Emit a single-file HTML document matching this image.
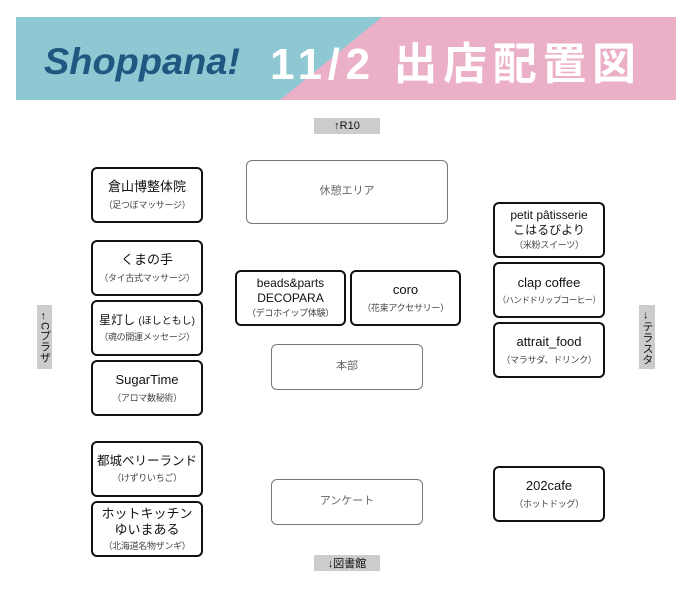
<!DOCTYPE html>
<html><head><meta charset="utf-8">
<style>
*{margin:0;padding:0;box-sizing:border-box}
body{width:692px;height:593px;background:#fff;position:relative;overflow:hidden;font-family:"Liberation Sans","Noto Sans CJK JP",sans-serif;color:#111}
.b{position:absolute;border:2px solid #111;border-radius:6px;display:flex;flex-direction:column;align-items:center;justify-content:center;text-align:center;line-height:1.25;white-space:nowrap}
.g{border-color:#777;color:#666;border-width:1.5px}
.m{font-size:13px}
.s{font-size:9px;color:#444;margin-top:4px;letter-spacing:-0.3px}
.lab{position:absolute;background:#ccc;font-size:11px;display:flex;align-items:center;justify-content:center;color:#111}
.v{writing-mode:vertical-rl}
</style></head><body>
<svg style="position:absolute;left:16px;top:17px" width="660" height="83">
<rect width="660" height="83" fill="#ebafc8"/>
<polygon points="0,0 366,0 264,83 0,83" fill="#8dc8d3"/>
<text x="28" y="57" font-family="Liberation Sans,sans-serif" font-weight="bold" font-style="italic" font-size="37" fill="#1f5780" textLength="196" lengthAdjust="spacingAndGlyphs">Shoppana!</text>
<text x="254" y="62" font-family="Liberation Sans,Noto Sans CJK JP,sans-serif" font-weight="bold" font-size="44" fill="#fff" textLength="366" lengthAdjust="spacing">11/2 出店配置図</text>
</svg>
<div class="lab" style="left:314px;top:118px;width:66px;height:16px">↑R10</div>
<div class="lab" style="left:314px;top:555px;width:66px;height:16px">↓図書館</div>
<div class="lab v" style="left:37px;top:305px;width:15px;height:64px">←Cプラザ</div>
<div class="lab v" style="left:639px;top:305px;width:16px;height:64px">→テラスタ</div>

<div class="b" style="left:91px;top:167px;width:112px;height:56px"><div class="m">倉山博整体院</div><div class="s">（足つぼマッサージ）</div></div>
<div class="b" style="left:91px;top:240px;width:112px;height:56px"><div class="m">くまの手</div><div class="s">（タイ古式マッサージ）</div></div>
<div class="b" style="left:91px;top:300px;width:112px;height:56px"><div class="m" style="font-size:12px">星灯し <span style="font-size:10px">(ほしともし)</span></div><div class="s">（魂の開運メッセージ）</div></div>
<div class="b" style="left:91px;top:360px;width:112px;height:56px"><div class="m">SugarTime</div><div class="s">（アロマ数秘術）</div></div>
<div class="b" style="left:91px;top:441px;width:112px;height:56px"><div class="m" style="font-size:12.5px">都城ベリーランド</div><div class="s">（けずりいちご）</div></div>
<div class="b" style="left:91px;top:501px;width:112px;height:56px"><div class="m">ホットキッチン<br>ゆいまある</div><div class="s" style="margin-top:2px">（北海道名物ザンギ）</div></div>

<div class="b g" style="left:246px;top:160px;width:202px;height:64px"><div style="font-size:11px">休憩エリア</div></div>
<div class="b" style="left:235px;top:270px;width:111px;height:56px"><div style="font-size:12px">beads&amp;parts<br>DECOPARA</div><div class="s" style="margin-top:2px">（デコホイップ体験）</div></div>
<div class="b" style="left:350px;top:270px;width:111px;height:56px"><div class="m">coro</div><div class="s">（花束アクセサリー）</div></div>
<div class="b g" style="left:271px;top:344px;width:152px;height:46px"><div style="font-size:11px">本部</div></div>
<div class="b g" style="left:271px;top:479px;width:152px;height:46px"><div style="font-size:11px">アンケート</div></div>

<div class="b" style="left:493px;top:202px;width:112px;height:56px"><div style="font-size:12px">petit pâtisserie<br>こはるびより</div><div class="s" style="margin-top:2px">（米粉スイーツ）</div></div>
<div class="b" style="left:493px;top:262px;width:112px;height:56px"><div class="m">clap coffee</div><div class="s" style="font-size:8.5px;letter-spacing:-0.6px">（ハンドドリップコーヒー）</div></div>
<div class="b" style="left:493px;top:322px;width:112px;height:56px"><div class="m">attrait_food</div><div class="s">（マラサダ、ドリンク）</div></div>
<div class="b" style="left:493px;top:466px;width:112px;height:56px"><div class="m">202cafe</div><div class="s">（ホットドッグ）</div></div>
</body></html>
